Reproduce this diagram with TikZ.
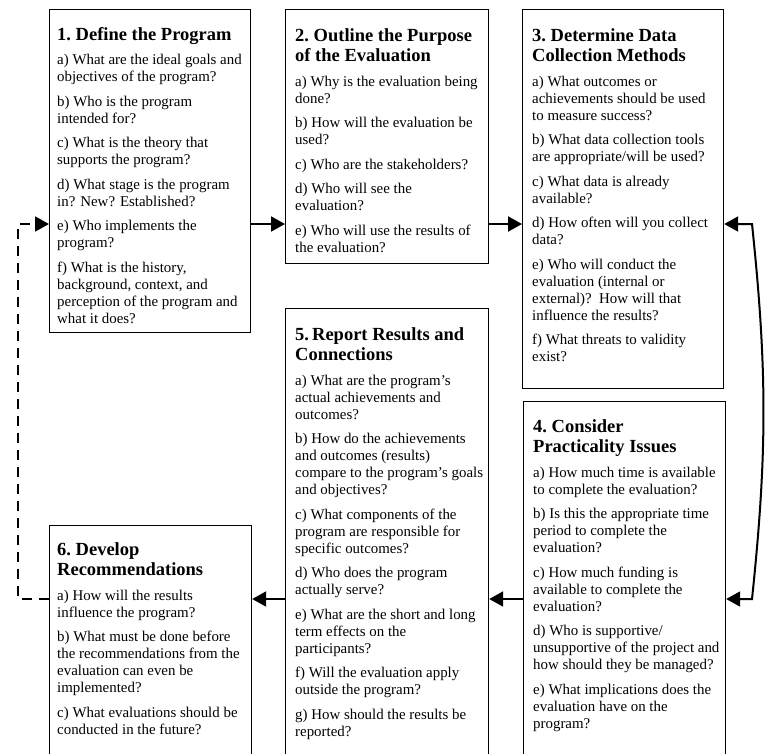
\documentclass[tikz,border=0pt]{standalone}
\usepackage{fontspec}
\setmainfont{Liberation Serif}
\usetikzlibrary{calc,arrows.meta}
\newcommand{\stitle}{\fontsize{18.5}{20.5}\selectfont\bfseries}
\newcommand{\sbody}{\fontsize{14.9}{17}\selectfont}
\newcommand{\stagetext}[2]{\begin{minipage}[t]{205pt}\raggedright\setlength{\parskip}{7.5pt}{\stitle #1\par}\sbody #2\end{minipage}}

\begin{document}
\begin{tikzpicture}[x=1pt,y=1pt,
    stage/.style={draw, line width=1.2pt, inner sep=0pt, anchor=north west},
    txt/.style={anchor=base west, inner sep=0pt},
    arr/.style={line width=2pt, -{Triangle[length=14pt,width=15pt]}},
    twoway/.style={line width=2pt, {Triangle[length=14pt,width=15pt]}-{Triangle[length=14pt,width=15pt]}},
    dashback/.style={line width=2pt, dash pattern=on 10pt off 7pt, -{Triangle[length=14pt,width=15pt]}}]
    \useasboundingbox (0,0) rectangle (765,-753);
    \clip (0,0) rectangle (765,-753);
    % boxes
    \node[stage, minimum width=201pt, minimum height=323pt] (b1) at (49,-9) {};
    \node[stage, minimum width=203pt, minimum height=254pt] (b2) at (285,-9) {};
    \node[stage, minimum width=201pt, minimum height=379pt] (b3) at (522,-9) {};
    \node[stage, minimum width=202pt, minimum height=400pt] (b4) at (523,-401) {};
    \node[stage, minimum width=203pt, minimum height=500pt] (b5) at (285,-308) {};
    \node[stage, minimum width=202pt, minimum height=300pt] (b6) at (49,-525) {};
    % texts
    \node[txt] (t1) at ($(b1.north west)+(8,-31)$) {\stagetext{1.\ Define the Program}{%
        a) What are the ideal goals and\\ objectives of the program?\par
        b) Who is the program\\ intended for?\par
        c) What is the theory that\\ supports the program?\par
        d) What stage is the program\\ in? New? Established?\par
        e) Who implements the\\ program?\par
        f) What is the history,\\ background, context, and\\ perception of the program and\\ what it does?}};
    \node[txt] (t2) at ($(b2.north west)+(10,-32)$) {\stagetext{2.\ Outline the Purpose\\ of the Evaluation}{%
        a) Why is the evaluation being\\ done?\par
        b) How will the evaluation be\\ used?\par
        c) Who are the stakeholders?\par
        d) Who will see the\\ evaluation?\par
        e) Who will use the results of\\ the evaluation?}};
    \node[txt] (t3) at ($(b3.north west)+(10,-32)$) {\stagetext{3.\ Determine Data\\ Collection Methods}{%
        a) What outcomes or\\ achievements should be used\\ to measure success?\par
        b) What data collection tools\\ are appropriate/will be used?\par
        c) What data is already\\ available?\par
        d) How often will you collect\\ data?\par
        e) Who will conduct the\\ evaluation (internal or\\ external)?\ \ How will that\\ influence the results?\par
        f) What threats to validity\\ exist?}};
    \node[txt] (t4) at ($(b4.north west)+(10,-31)$) {\stagetext{4.\ Consider\\ Practicality Issues}{%
        a) How much time is available\\ to complete the evaluation?\par
        b) Is this the appropriate time\\ period to complete the\\ evaluation?\par
        c) How much funding is\\ available to complete the\\ evaluation?\par
        d) Who is supportive/\\ unsupportive of the project and\\ how should they be managed?\par
        e) What implications does the\\ evaluation have on the\\ program?}};
    \node[txt] (t5) at ($(b5.north west)+(10,-32)$) {\stagetext{5.\,Report Results and\\ Connections}{%
        a) What are the program's\\ actual achievements and\\ outcomes?\par
        b) How do the achievements\\ and outcomes (results)\\ compare to the program's goals\\ and objectives?\par
        c) What components of the\\ program are responsible for\\ specific outcomes?\par
        d) Who does the program\\ actually serve?\par
        e) What are the short and long\\ term effects on the\\ participants?\par
        f) Will the evaluation apply\\ outside the program?\par
        g) How should the results be\\ reported?}};
    \node[txt] (t6) at ($(b6.north west)+(8,-30)$) {\stagetext{6.\ Develop\\ Recommendations}{%
        a) How will the results\\ influence the program?\par
        b) What must be done before\\ the recommendations from the\\ evaluation can even be\\ implemented?\par
        c) What evaluations should be\\ conducted in the future?}};
    % connectors
    \coordinate (r1) at (0,-224);
    \coordinate (r2) at (0,-599);
    \coordinate (lx) at (18,0);
    \coordinate (rx) at (752,0);
    \draw[arr] (b1.east |- r1) -- (b2.west |- r1);
    \draw[arr] (b2.east |- r1) -- (b3.west |- r1);
    \draw[twoway] (b3.east |- r1) -- (rx |- r1) to[bend left=6] (rx |- r2) -- (b4.east |- r2);
    \draw[arr] (b4.west |- r2) -- (b5.east |- r2);
    \draw[arr] (b5.west |- r2) -- (b6.east |- r2);
    \draw[dashback] (b6.west |- r2) -- (lx |- r2) -- (lx |- r1) -- (b1.west |- r1);
\end{tikzpicture}
\end{document}
